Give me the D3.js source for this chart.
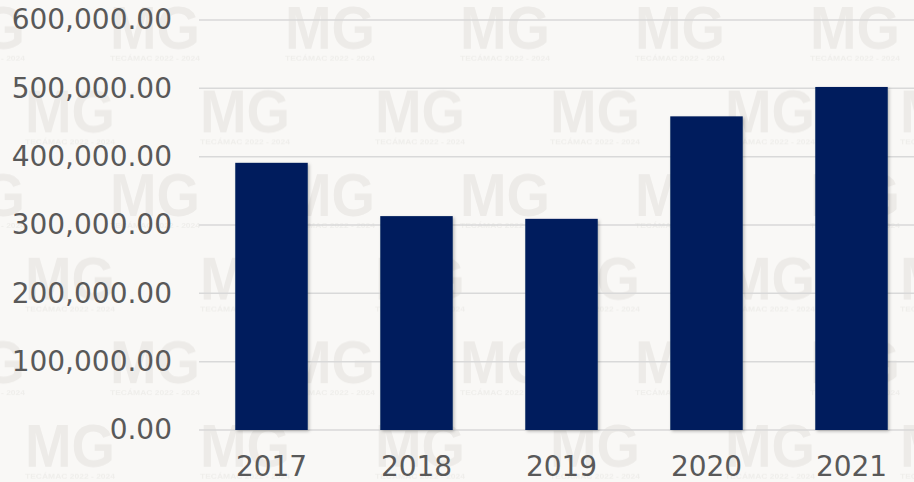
<!DOCTYPE html>
<html>
<head>
<meta charset="utf-8">
<script src="https://cdn.jsdelivr.net/npm/d3@7"></script>
<style>
  html, body { margin: 0; padding: 0; background: #f9f8f6; }
  svg { display: block; }
</style>
</head>
<body>
<svg id="chart" width="914" height="482"></svg>
<script>
// Annual totals
const years = ["2017", "2018", "2019", "2020", "2021"];
const amounts = [391000, 313000, 309000, 459000, 502000];
const yTicks = [0, 100000, 200000, 300000, 400000, 500000, 600000];

const W = 914, H = 482;
const svg = d3.select("#chart");
const defs = svg.append("defs");

// Tiled watermark logo, laid out as a repeating pattern (two staggered logos per tile)
const tileW = 175, tileH = 167.2;
const pat = defs.append("pattern")
  .attr("id", "wmark")
  .attr("patternUnits", "userSpaceOnUse")
  .attr("x", 110).attr("y", 5)
  .attr("width", tileW).attr("height", tileH);

function logo(parent, dx, dy) {
  const g = parent.append("g").attr("transform", `translate(${dx},${dy})`);
  g.append("text")
    .attr("x", 0).attr("y", 44)
    .attr("textLength", 90).attr("lengthAdjust", "spacingAndGlyphs")
    .attr("font-family", "Liberation Sans, Arial, sans-serif")
    .attr("font-weight", "bold").attr("font-size", 61)
    .attr("fill", "#edebe8")
    .text("MG");
  g.append("text")
    .attr("x", 0).attr("y", 56)
    .attr("textLength", 90).attr("lengthAdjust", "spacingAndGlyphs")
    .attr("font-family", "Liberation Sans, Arial, sans-serif")
    .attr("font-weight", "bold").attr("font-size", 8)
    .attr("fill", "#efeeeb")
    .text("TECÁMAC 2022 - 2024");
}
logo(pat, 0, 0);
logo(pat, -85, tileH / 2);
logo(pat, 90, tileH / 2);

// Background and watermark
svg.append("rect").attr("width", W).attr("height", H).attr("fill", "#f9f8f6");
svg.append("rect").attr("width", W).attr("height", H).attr("fill", "url(#wmark)");

// Scales
const x = d3.scaleBand()
  .domain(years)
  .range([199, 924])
  .paddingInner(0.5)
  .paddingOuter(0.25);

const y = d3.scaleLinear()
  .domain([0, 600000])
  .range([430, 20]);

const fmt = d3.format(",.2f");

// Gridlines
svg.append("g").attr("class", "grid")
  .selectAll("line")
  .data(yTicks)
  .join("line")
  .attr("x1", 199).attr("x2", 924)
  .attr("y1", d => y(d)).attr("y2", d => y(d))
  .attr("stroke", "#d9d9d9")
  .attr("stroke-width", 1.5);

// Y axis labels
const yAxis = d3.axisLeft(y).tickValues(yTicks).tickFormat(fmt).tickSize(0).tickPadding(0);
svg.append("g")
  .attr("transform", "translate(172,0)")
  .call(yAxis)
  .call(g => g.select(".domain").remove())
  .call(g => g.selectAll("text")
    .attr("font-family", "DejaVu Sans, Verdana, sans-serif")
    .attr("font-size", 28)
    .attr("fill", "#595959")
    .attr("dy", "0.32em"));

// Soft bar shadow
const f = defs.append("filter").attr("id", "barShadow")
  .attr("x", "-20%").attr("y", "-20%").attr("width", "140%").attr("height", "140%");
f.append("feDropShadow")
  .attr("dx", 1.5).attr("dy", 1.5).attr("stdDeviation", 1.5)
  .attr("flood-color", "#000").attr("flood-opacity", 0.25);

// Bars
svg.append("g").attr("class", "bars")
  .selectAll("rect")
  .data(years.map((yr, i) => ({ yr, v: amounts[i] })))
  .join("rect")
  .attr("x", d => x(d.yr))
  .attr("width", x.bandwidth())
  .attr("y", d => y(d.v))
  .attr("height", d => y(0) - y(d.v))
  .attr("fill", "#001f5d")
  .attr("filter", "url(#barShadow)");

// X axis labels
const xAxis = d3.axisBottom(x).tickSize(0).tickPadding(0);
svg.append("g")
  .attr("transform", "translate(0,430)")
  .call(xAxis)
  .call(g => g.select(".domain").remove())
  .call(g => g.selectAll("text")
    .attr("font-family", "DejaVu Sans, Verdana, sans-serif")
    .attr("font-size", 28)
    .attr("fill", "#595959")
    .attr("y", 45.5)
    .attr("dy", 0));
</script>
</body>
</html>
